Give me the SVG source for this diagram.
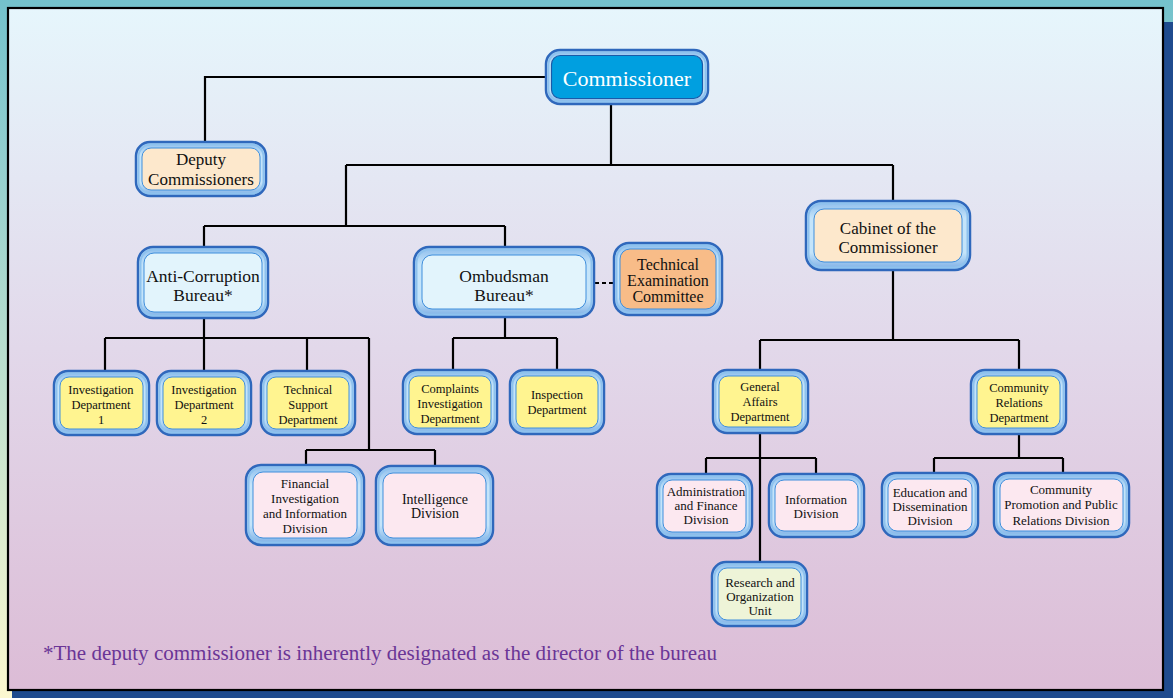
<svg xmlns="http://www.w3.org/2000/svg" width="1173" height="698" viewBox="0 0 1173 698">
<defs>
<linearGradient id="bg" x1="0" y1="0" x2="0" y2="1">
<stop offset="0" stop-color="#74c2cc"/><stop offset="1" stop-color="#fcf8d0"/>
</linearGradient>
<linearGradient id="panel" x1="0" y1="0" x2="0" y2="1">
<stop offset="0" stop-color="#e6f6fc"/><stop offset="0.5" stop-color="#e2d8ea"/><stop offset="1" stop-color="#dcbcd6"/>
</linearGradient>
<linearGradient id="ring" x1="0" y1="0" x2="0" y2="1">
<stop offset="0" stop-color="#8cbcec"/><stop offset="0.25" stop-color="#c4e4fa"/><stop offset="0.75" stop-color="#c4e4fa"/><stop offset="1" stop-color="#7aace4"/>
</linearGradient>
<style>
.ring{fill:url(#ring);stroke:#2f68bc;stroke-width:2.5}
.ring2{fill:none;stroke:#8ec2ee;stroke-width:2}
.in{stroke:#3f8edc;stroke-width:1}
.peach{fill:#fde8cc}.lblue{fill:#e2f4fc}.orange{fill:#f8bc88}.yellow{fill:#fff490}.pink{fill:#fce8f0}.green{fill:#eef4d8}
.t{font-family:"Liberation Serif","Times New Roman",serif;fill:#111;text-anchor:middle}
.f18{font-size:17.5px}.f17{font-size:17px}.f16{font-size:16px}.f13{font-size:13px}.f12{font-size:12.5px}.f14{font-size:14px}
.c{fill:none;stroke:#000;stroke-width:2.2}
</style>
</defs>
<rect x="0" y="0" width="1173" height="698" fill="url(#bg)"/>
<rect x="12" y="22" width="1161" height="676" fill="#1f4b8e"/>
<rect x="8" y="8" width="1155" height="682" fill="url(#panel)" stroke="#000" stroke-width="2.2"/>

<g id="connectors">
<path class="c" d="M546 77H205V142"/>
<path class="c" d="M611 104V165M346 165H893M346 165V226M204 226H505M204 226V247M505 226V247M893 165V201"/>
<path class="c" d="M204 318V338M105 338H369M105 338V371M204 338V371M307 338V371M369 338V450M306 450H435M306 450V465M435 450V466"/>
<path class="c" d="M505 317V338M453 338H557M453 338V370M557 338V370"/>
<path class="c" d="M893 270V340M760 340H1019M760 340V370M1019 340V370"/>
<path class="c" d="M760 433V562M706 458H816M706 458V474M816 458V474"/>
<path class="c" d="M1019 434V458M934 458H1063M934 458V473M1063 458V473"/>
<path class="c" d="M595 283H614" stroke-dasharray="4 3"/>
</g>

<g id="commissioner">
<rect class="ring" x="546" y="50" width="162" height="54" rx="14"/>
<rect class="ring2" x="548.5" y="52.5" width="157" height="49" rx="12"/>
<rect x="551.5" y="55.5" width="151" height="43" rx="9" fill="#009fe0" stroke="#1a5aa8" stroke-width="1.2"/>
<text class="t" x="627" y="86" font-size="22" style="fill:#fff">Commissioner</text>
</g>

<g id="deputy">
<rect class="ring" x="136" y="142" width="130" height="54" rx="14"/>
<rect class="ring2" x="138.5" y="144.5" width="125" height="49" rx="12"/>
<rect class="in peach" x="142" y="148" width="118" height="42" rx="9"/>
<text class="t f17" x="201" y="165">Deputy</text>
<text class="t f17" x="201" y="185">Commissioners</text>
</g>

<g id="acb">
<rect class="ring" x="138" y="247" width="130" height="71" rx="15"/>
<rect class="ring2" x="140.5" y="249.5" width="125" height="66" rx="13"/>
<rect class="in lblue" x="144" y="253" width="118" height="59" rx="10"/>
<text class="t f18" x="203" y="282">Anti-Corruption</text>
<text class="t f18" x="203" y="301">Bureau*</text>
</g>

<g id="ombudsman">
<rect class="ring" x="414" y="247" width="180" height="70" rx="15"/>
<rect class="ring2" x="416.5" y="249.5" width="175" height="65" rx="13"/>
<rect class="in lblue" x="422" y="255" width="164" height="54" rx="10"/>
<text class="t f18" x="504" y="282">Ombudsman</text>
<text class="t f18" x="504" y="301">Bureau*</text>
</g>

<g id="tec">
<rect class="ring" x="614" y="243" width="108" height="72" rx="15"/>
<rect class="ring2" x="616.5" y="245.5" width="103" height="67" rx="13"/>
<rect class="in orange" x="620" y="249" width="96" height="60" rx="10"/>
<text class="t f16" x="668" y="270">Technical</text>
<text class="t f16" x="668" y="286">Examination</text>
<text class="t f16" x="668" y="302">Committee</text>
</g>

<g id="cabinet">
<rect class="ring" x="806" y="201" width="164" height="69" rx="15"/>
<rect class="ring2" x="808.5" y="203.5" width="159" height="64" rx="13"/>
<rect class="in peach" x="814" y="209" width="148" height="53" rx="10"/>
<text class="t f17" x="888" y="234">Cabinet of the</text>
<text class="t f17" x="888" y="253">Commissioner</text>
</g>

<g id="inv1">
<rect class="ring" x="54" y="371" width="95" height="64" rx="14"/>
<rect class="ring2" x="56.5" y="373.5" width="90" height="59" rx="12"/>
<rect class="in yellow" x="60" y="377" width="83" height="52" rx="9"/>
<text class="t f12" x="101" y="394">Investigation</text>
<text class="t f12" x="101" y="409">Department</text>
<text class="t f12" x="101" y="424">1</text>
</g>

<g id="inv2">
<rect class="ring" x="157" y="371" width="94" height="64" rx="14"/>
<rect class="ring2" x="159.5" y="373.5" width="89" height="59" rx="12"/>
<rect class="in yellow" x="163" y="377" width="82" height="52" rx="9"/>
<text class="t f12" x="204" y="394">Investigation</text>
<text class="t f12" x="204" y="409">Department</text>
<text class="t f12" x="204" y="424">2</text>
</g>

<g id="techsupport">
<rect class="ring" x="261" y="371" width="94" height="64" rx="14"/>
<rect class="ring2" x="263.5" y="373.5" width="89" height="59" rx="12"/>
<rect class="in yellow" x="267" y="377" width="82" height="52" rx="9"/>
<text class="t f12" x="308" y="394">Technical</text>
<text class="t f12" x="308" y="409">Support</text>
<text class="t f12" x="308" y="424">Department</text>
</g>

<g id="financial">
<rect class="ring" x="246" y="465" width="118" height="80" rx="15"/>
<rect class="ring2" x="248.5" y="467.5" width="113" height="75" rx="13"/>
<rect class="in pink" x="253" y="472" width="104" height="66" rx="10"/>
<text class="t f13" x="305" y="488">Financial</text>
<text class="t f13" x="305" y="503">Investigation</text>
<text class="t f13" x="305" y="518">and Information</text>
<text class="t f13" x="305" y="533">Division</text>
</g>

<g id="intelligence">
<rect class="ring" x="376" y="466" width="117" height="79" rx="15"/>
<rect class="ring2" x="378.5" y="468.5" width="112" height="74" rx="13"/>
<rect class="in pink" x="383" y="473" width="103" height="65" rx="10"/>
<text class="t f14" x="435" y="504">Intelligence</text>
<text class="t f14" x="435" y="518">Division</text>
</g>

<g id="complaints">
<rect class="ring" x="403" y="370" width="94" height="64" rx="14"/>
<rect class="ring2" x="405.5" y="372.5" width="89" height="59" rx="12"/>
<rect class="in yellow" x="409" y="376" width="82" height="52" rx="9"/>
<text class="t f12" x="450" y="393">Complaints</text>
<text class="t f12" x="450" y="408">Investigation</text>
<text class="t f12" x="450" y="423">Department</text>
</g>

<g id="inspection">
<rect class="ring" x="510" y="370" width="94" height="64" rx="14"/>
<rect class="ring2" x="512.5" y="372.5" width="89" height="59" rx="12"/>
<rect class="in yellow" x="516" y="376" width="82" height="52" rx="9"/>
<text class="t f12" x="557" y="399">Inspection</text>
<text class="t f12" x="557" y="414">Department</text>
</g>

<g id="general">
<rect class="ring" x="713" y="370" width="95" height="63" rx="14"/>
<rect class="ring2" x="715.5" y="372.5" width="90" height="58" rx="12"/>
<rect class="in yellow" x="719" y="376" width="83" height="51" rx="9"/>
<text class="t f12" x="760" y="391">General</text>
<text class="t f12" x="760" y="406">Affairs</text>
<text class="t f12" x="760" y="421">Department</text>
</g>

<g id="community">
<rect class="ring" x="971" y="370" width="95" height="64" rx="14"/>
<rect class="ring2" x="973.5" y="372.5" width="90" height="59" rx="12"/>
<rect class="in yellow" x="977" y="376" width="83" height="52" rx="9"/>
<text class="t f12" x="1019" y="392">Community</text>
<text class="t f12" x="1019" y="407">Relations</text>
<text class="t f12" x="1019" y="422">Department</text>
</g>

<g id="admin">
<rect class="ring" x="657" y="474" width="95" height="64" rx="14"/>
<rect class="ring2" x="659.5" y="476.5" width="90" height="59" rx="12"/>
<rect class="in pink" x="663" y="480" width="83" height="52" rx="9"/>
<text class="t f13" x="706" y="496">Administration</text>
<text class="t f13" x="706" y="510">and Finance</text>
<text class="t f13" x="706" y="524">Division</text>
</g>

<g id="information">
<rect class="ring" x="769" y="474" width="95" height="63" rx="14"/>
<rect class="ring2" x="771.5" y="476.5" width="90" height="58" rx="12"/>
<rect class="in pink" x="775" y="480" width="83" height="51" rx="9"/>
<text class="t f13" x="816" y="504">Information</text>
<text class="t f13" x="816" y="518">Division</text>
</g>

<g id="research">
<rect class="ring" x="712" y="562" width="95" height="64" rx="14"/>
<rect class="ring2" x="714.5" y="564.5" width="90" height="59" rx="12"/>
<rect class="in green" x="718" y="568" width="83" height="52" rx="9"/>
<text class="t f13" x="760" y="587">Research and</text>
<text class="t f13" x="760" y="601">Organization</text>
<text class="t f13" x="760" y="615">Unit</text>
</g>

<g id="education">
<rect class="ring" x="882" y="473" width="96" height="64" rx="14"/>
<rect class="ring2" x="884.5" y="475.5" width="91" height="59" rx="12"/>
<rect class="in pink" x="888" y="479" width="84" height="52" rx="9"/>
<text class="t f13" x="930" y="497">Education and</text>
<text class="t f13" x="930" y="511">Dissemination</text>
<text class="t f13" x="930" y="525">Division</text>
</g>

<g id="promotion">
<rect class="ring" x="994" y="473" width="135" height="64" rx="14"/>
<rect class="ring2" x="996.5" y="475.5" width="130" height="59" rx="12"/>
<rect class="in pink" x="1000" y="479" width="123" height="52" rx="9"/>
<text class="t f13" x="1061" y="494">Community</text>
<text class="t f13" x="1061" y="509">Promotion and Public</text>
<text class="t f13" x="1061" y="525">Relations Division</text>
</g>

<text x="43" y="660" font-family="Liberation Serif, 'Times New Roman', serif" font-size="20" fill="#6a3596" textLength="674" lengthAdjust="spacingAndGlyphs">*The deputy commissioner is inherently designated as the director of the bureau</text>
</svg>
